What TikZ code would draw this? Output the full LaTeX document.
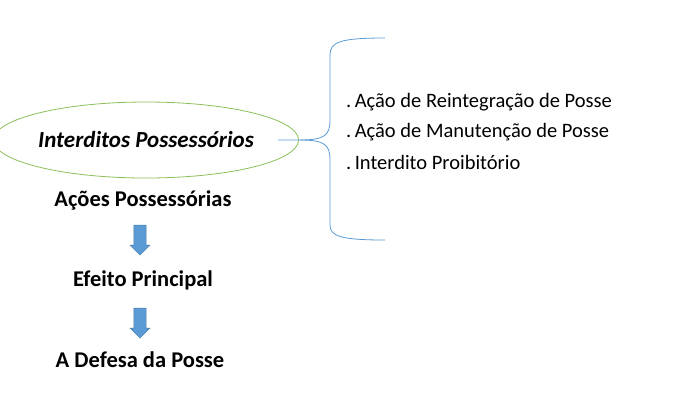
\documentclass[tikz,border=0pt]{standalone}
\usepackage{fontspec}
\setmainfont{Carlito}
\usetikzlibrary{shapes.geometric,shapes.arrows}
\definecolor{arrowblue}{RGB}{91,155,213}
\definecolor{ringgreen}{RGB}{140,190,90}
\tikzset{
  title/.style={font=\fontsize{22.5}{26}\selectfont\bfseries},
  item/.style={font=\fontsize{20.5}{24}\selectfont, anchor=west, inner sep=0pt},
  down/.style={single arrow, shape border rotate=270, fill=arrowblue, draw=arrowblue!80!black,
    minimum height=30pt, minimum width=20pt, single arrow head extend=2pt, inner sep=3pt}
}
\begin{document}
\begin{tikzpicture}[x=1pt,y=-1pt]
  \useasboundingbox (0,0) rectangle (695,400);
  % main term
  \node[ellipse, draw=ringgreen, thick, minimum width=244pt, minimum height=76pt, inner sep=0pt,
    font=\fontsize{23}{26}\selectfont\bfseries\itshape] (interd) at (146,140) {Interditos Possessórios};
  % column below
  \node[title] (acoes) at (143,200) {Ações Possessórias};
  \node[down] (arr1) at (140,237) {};
  \node[title] (efeito) at (143,280) {Efeito Principal};
  \node[down] (arr2) at (140,320) {};
  \node[title] (defesa) at (140,360) {A Defesa da Posse};
  % brace
  \coordinate (tip) at (278,140);
  \draw[arrowblue, thick] (tip) -- (300,140) .. controls (325,140) and (330,135) .. (330,120)
    -- (330,55) .. controls (330,42) and (340,38) .. (385,38);
  \draw[arrowblue, thick] (300,140) .. controls (325,140) and (330,145) .. (330,160)
    -- (330,225) .. controls (330,236) and (340,240) .. (385,240);
  % list
  \node[item] (reint) at (346,102) {.\,Ação de Reintegração de Posse};
  \node[item] (manut) at (346,132) {.\,Ação de Manutenção de Posse};
  \node[item] (proib) at (346,162) {.\,Interdito Proibitório};
\end{tikzpicture}
\end{document}
